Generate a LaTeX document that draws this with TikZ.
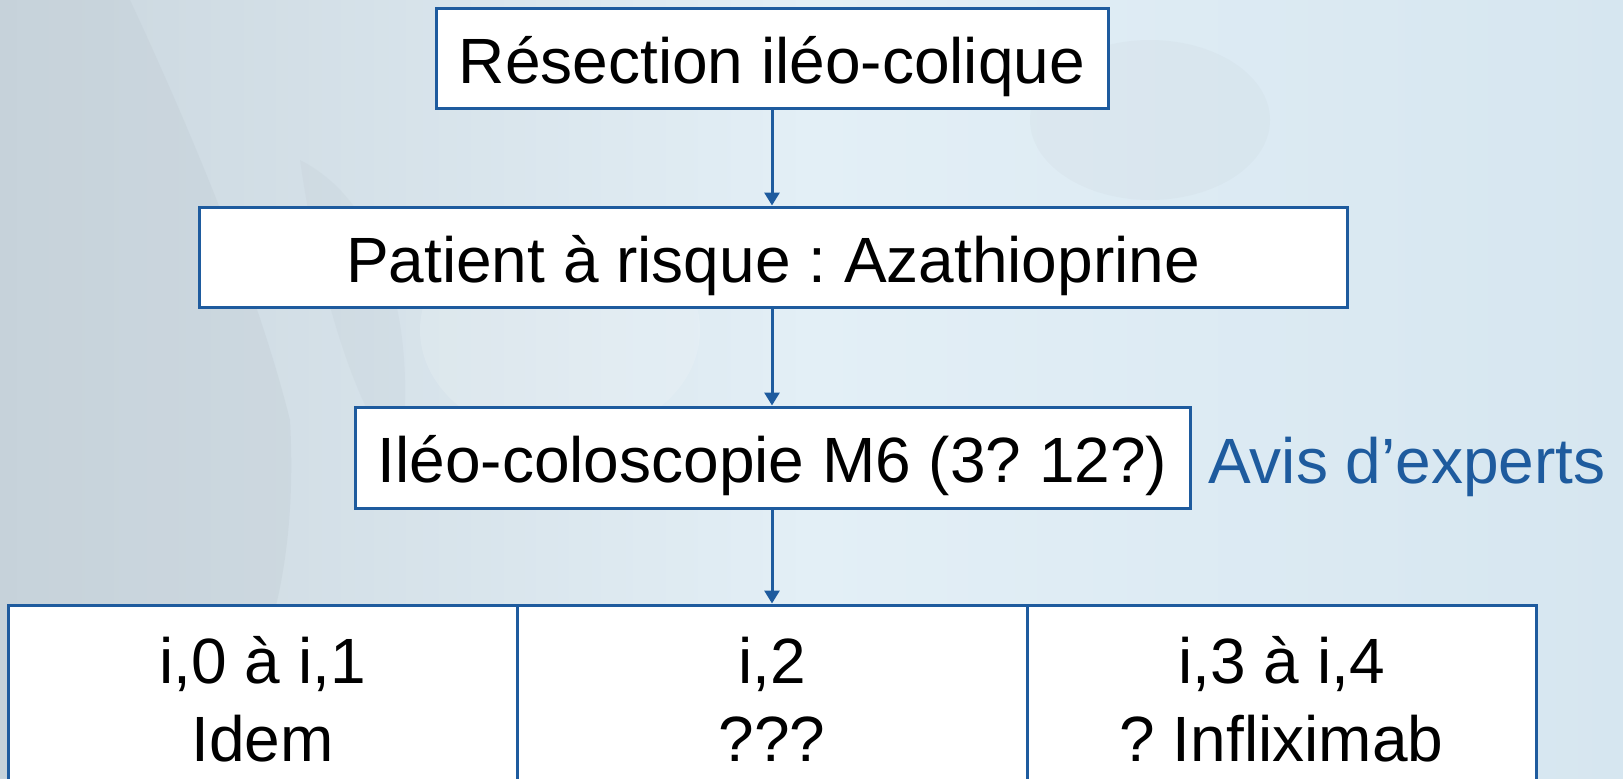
\documentclass[tikz,border=0pt]{standalone}
\usepackage{fontspec}
\setmainfont{Liberation Sans}
\usetikzlibrary{arrows.meta,calc}
\frenchspacing
\definecolor{boxblue}{HTML}{1E5B9E}
\definecolor{bgleft}{HTML}{CAD6DE}
\definecolor{bgmid}{HTML}{E3EFF6}
\definecolor{bgright}{HTML}{D6E6F0}
\definecolor{haze}{HTML}{BFCAD2}
\begin{document}
\begin{tikzpicture}[x=0.5pt,y=-0.5pt,
  boxtext/.style={font=\fontsize{32}{39}\selectfont},
  stepbox/.style={boxtext,draw=boxblue,line width=1.5pt,fill=white,inner sep=0pt,
    text height=30pt,text depth=5pt},
  cell/.style={draw=boxblue,line width=1.5pt,fill=white,inner sep=0pt,
    minimum height=97.5pt},
  celltext/.style={boxtext,align=center,inner sep=0pt,anchor=base},
  flow/.style={draw=boxblue,line width=1.5pt,-{Triangle[width=7.5pt,length=6.5pt]}}]
\path[use as bounding box] (0,0) rectangle (1623,778);
\clip (0,0) rectangle (1623,778);
% soft photographic backdrop
\shade[left color=bgleft,right color=bgright,middle color=bgmid] (0,0) rectangle (1623,778);
\fill[haze,opacity=0.3] (0,0) -- (130,0) .. controls (200,150) and (260,300) .. (290,420)
  .. controls (300,600) and (250,700) .. (200,778) -- (0,778) -- cycle;
\fill[haze,opacity=0.2] (300,160) .. controls (380,200) and (420,320) .. (400,460)
  .. controls (360,420) and (320,300) .. (300,160) -- cycle;
\fill[white,opacity=0.15] (560,330) ellipse (140 and 110);
\fill[haze,opacity=0.12] (1150,120) ellipse (120 and 80);
% flow boxes
\node[stepbox,minimum width=336pt,minimum height=50pt] (res) at (772,58) {Résection iléo-colique};
\node[stepbox,minimum width=574pt,minimum height=50pt] (pat) at (773,257) {Patient à risque : Azathioprine};
\node[stepbox,minimum width=417.5pt,minimum height=50.5pt] (ileo) at (772.5,457.5) {Iléo-coloscopie M6 (3? 12?)};
\node[boxtext,text=boxblue,anchor=base west,inner sep=0pt] (avis) at (1208,483) {Avis d’experts};
% outcome cells
\node[cell,minimum width=254.5pt] (c1) at (262.5,702.5) {};
\node[cell,minimum width=255pt] (c2) at (772,702.5) {};
\node[cell,minimum width=254.5pt] (c3) at (1281.5,702.5) {};
\node[celltext] (t1) at (262.5,761) {i,0 à i,1\\Idem};
\node[celltext] (t2) at (772,761) {i,2\\???};
\node[celltext] (t3) at (1281.5,761) {i,3 à i,4\\? Infliximab};
% connectors
\draw[flow] (res.south) -- (res.south |- pat.north);
\draw[flow] (res.south |- pat.south) -- (res.south |- ileo.north);
\draw[flow] (res.south |- ileo.south) -- (res.south |- c2.north);
\end{tikzpicture}
\end{document}
